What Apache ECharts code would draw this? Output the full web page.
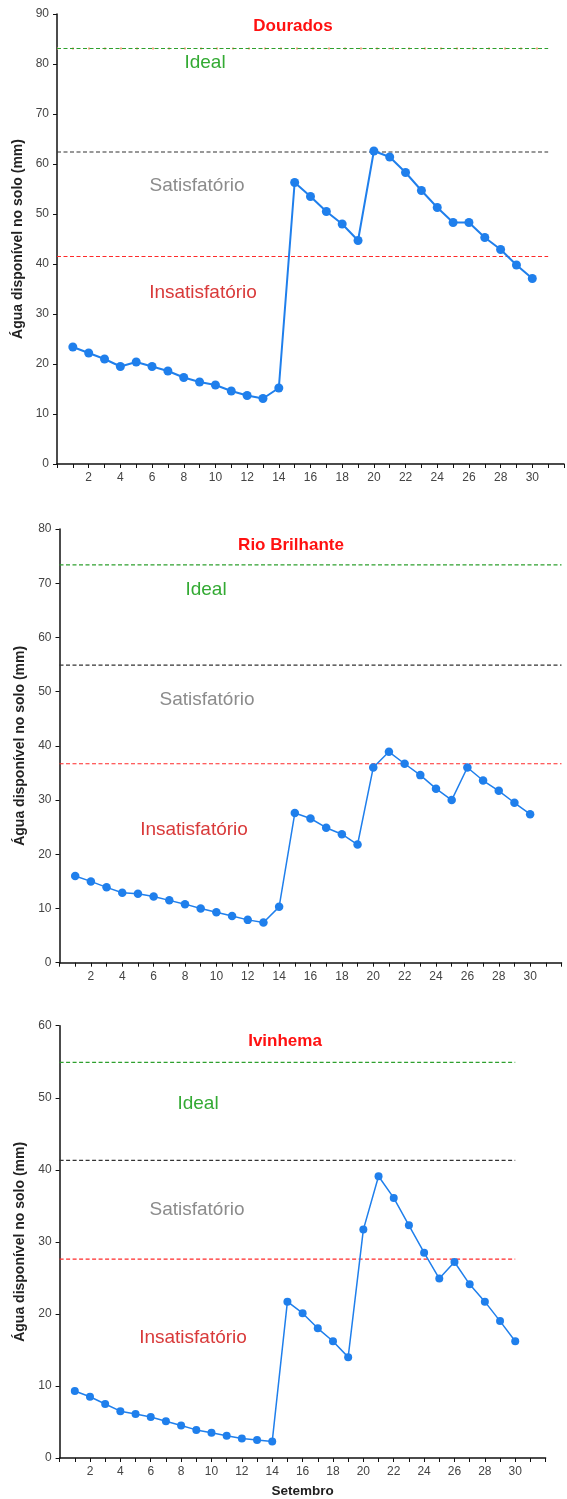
<!DOCTYPE html>
<html>
<head>
<meta charset="utf-8">
<script src="https://cdn.jsdelivr.net/npm/echarts@6/dist/echarts.min.js"></script>
<style>
html,body{margin:0;padding:0;background:#fff;}
#c{width:567px;height:1499px;}
</style>
</head>
<body>
<div id="c"></div>
<script>
// ---- data ----
const days = [1,2,3,4,5,6,7,8,9,10,11,12,13,14,15,16,17,18,19,20,21,22,23,24,25,26,27,28,29,30];

const douradosValues = [23.4,22.2,21.0,19.5,20.4,19.5,18.6,17.3,16.4,15.8,14.6,13.7,13.1,15.2,56.3,53.5,50.5,48.0,44.7,62.6,61.4,58.3,54.7,51.3,48.3,48.3,45.3,42.9,39.8,37.1];
const rioBrilhanteValues = [16.0,15.0,13.9,12.9,12.7,12.2,11.5,10.8,10.0,9.3,8.6,7.9,7.4,10.3,27.6,26.6,24.9,23.7,21.8,36.0,38.9,36.7,34.6,32.1,30.0,36.0,33.6,31.7,29.5,27.4];
const ivinhemaValues = [9.3,8.5,7.5,6.5,6.1,5.7,5.1,4.5,3.9,3.5,3.1,2.7,2.5,2.3,21.7,20.1,18.0,16.2,14.0,31.7,39.1,36.1,32.3,28.5,24.9,27.2,24.1,21.7,19.0,16.2];

// thresholds: [ideal, satisfatorio, insatisfatorio]
const douradosLimits = [83.1, 62.4, 41.5];
const rioBrilhanteLimits = [73.4, 54.9, 36.7];
const ivinhemaLimits = [54.9, 41.3, 27.6];

// extent (in days) of threshold lines
const douradosLineSpan = [0, 31];
const rioBrilhanteLineSpan = [0, 32];
const ivinhemaLineSpan = [0, 30];

const yMax = [90, 80, 60];
const stationNames = ['Dourados', 'Rio Brilhante', 'Ivinhema'];
const zoneNames = ['Ideal', 'Satisfatório', 'Insatisfatório'];
const yAxisName = 'Água disponível no solo (mm)';
const xAxisName = 'Setembro';

// ---- layout / style ----
const FONT = '"Liberation Sans", Arial, sans-serif';
const BLUE = '#1f7fec';
const grids = [
  {left: 57, width: 512, top: 14, height: 450},
  {left: 59.5, width: 502, top: 529, height: 433.7},
  {left: 59.6, width: 486, top: 1025.7, height: 439.3}
];
const nameGaps = [28, 29, 28];
const lineWidths = [2, 1.5, 1.5];
const symSizes = [9, 8.5, 8];

const allValues = [douradosValues, rioBrilhanteValues, ivinhemaValues];
const allLimits = [douradosLimits, rioBrilhanteLimits, ivinhemaLimits];
const allSpans = [douradosLineSpan, rioBrilhanteLineSpan, ivinhemaLineSpan];
const limitColors = ['#2ea02e', '#333333', '#ff2a2a'];

const xAxes = [], yAxes = [], series = [];
for (let i = 0; i < 3; i++) {
  xAxes.push({
    type: 'value', gridIndex: i, min: 0, max: 32, interval: 1,
    axisLine: {show: true, lineStyle: {color: '#111', width: 1.5}},
    axisTick: {show: true, length: 4, lineStyle: {color: '#111', width: 1}},
    splitLine: {show: false},
    axisLabel: {
      color: '#444', fontSize: 12, fontFamily: FONT, margin: 8,
      formatter: v => (v > 0 && v <= 30 && v % 2 === 0) ? String(v) : ''
    },
    name: i === 2 ? xAxisName : '',
    nameLocation: 'middle', nameGap: 26,
    nameTextStyle: {color: '#222', fontSize: 13.5, fontWeight: 'bold', fontFamily: FONT}
  });
  yAxes.push({
    type: 'value', gridIndex: i, min: 0, max: yMax[i], interval: 10,
    axisLine: {show: true, lineStyle: {color: '#111', width: 1.5}},
    axisTick: {show: true, length: 4, lineStyle: {color: '#111', width: 1}},
    splitLine: {show: false},
    axisLabel: {color: '#444', fontSize: 12, fontFamily: FONT, margin: 8},
    name: yAxisName, nameLocation: 'middle', nameGap: nameGaps[i], nameRotate: 90,
    nameTextStyle: {color: '#222', fontSize: 14, fontWeight: 'bold', fontFamily: FONT}
  });
  // threshold lines
  allLimits[i].forEach((lv, k) => {
    series.push({
      type: 'line', xAxisIndex: i, yAxisIndex: i, silent: true, symbol: 'none',
      data: [[allSpans[i][0], lv], [allSpans[i][1], lv]],
      lineStyle: {color: limitColors[k], width: 1.2, type: [4, 2.5]}, z: 2
    });
  });
  if (i === 0) {
    series.push({
      type: 'line', xAxisIndex: 0, yAxisIndex: 0, silent: true, symbol: 'none',
      data: [[allSpans[0][0], douradosLimits[0]], [allSpans[0][1], douradosLimits[0]]],
      lineStyle: {color: '#f5a882', width: 2, type: [2, 14], dashOffset: 1}, z: 1
    });
  }
  series.push({
    type: 'line', xAxisIndex: i, yAxisIndex: i,
    data: days.map((d, j) => [d, allValues[i][j]]),
    symbol: 'circle', symbolSize: symSizes[i],
    itemStyle: {color: BLUE},
    lineStyle: {color: BLUE, width: lineWidths[i]},
    z: 5
  });
}

// text annotations (positions are layout)
const titlePos = [[293, 26], [291, 545], [285, 1041]];
const zonePos = [
  [[205, 63], [197, 186], [203, 293]],
  [[206, 590], [207, 700], [194, 830]],
  [[198, 1104], [197, 1210], [193, 1338]]
];
const zoneColors = ['#33aa33', '#8c8c8c', '#d93a3a'];
const graphics = [];
for (let i = 0; i < 3; i++) {
  graphics.push({
    type: 'text', x: titlePos[i][0], y: titlePos[i][1], z: 10,
    style: {text: stationNames[i], fill: '#ff1111', font: 'bold 17px ' + FONT, align: 'center', verticalAlign: 'middle'}
  });
  for (let k = 0; k < 3; k++) {
    graphics.push({
      type: 'text', x: zonePos[i][k][0], y: zonePos[i][k][1], z: 10,
      style: {text: zoneNames[k], fill: zoneColors[k], font: '19px ' + FONT, align: 'center', verticalAlign: 'middle'}
    });
  }
}

const chart = echarts.init(document.getElementById('c'), null, {renderer: 'canvas'});
chart.setOption({
  backgroundColor: '#fff',
  animation: false,
  grid: grids,
  xAxis: xAxes,
  yAxis: yAxes,
  series: series,
  graphic: graphics
});
</script>
</body>
</html>
